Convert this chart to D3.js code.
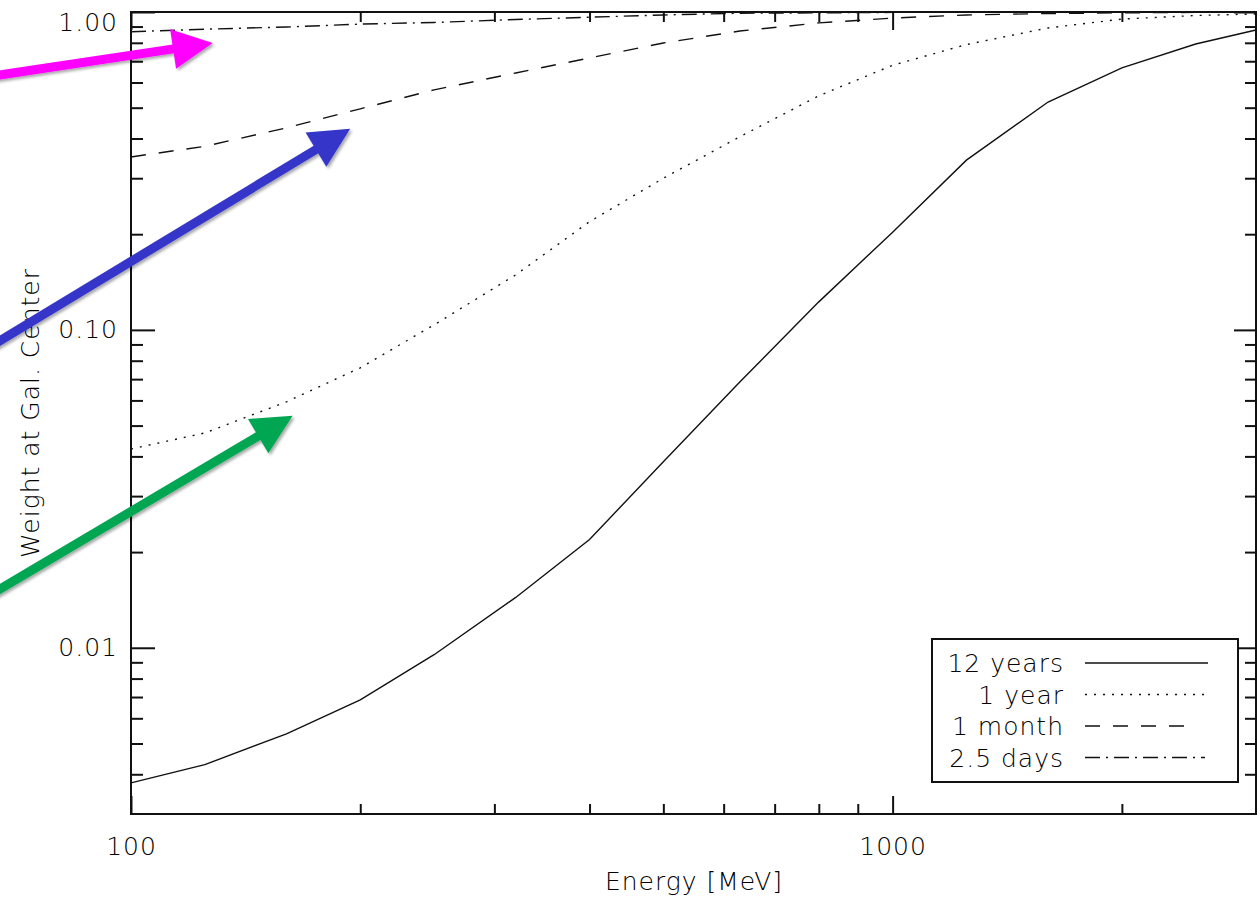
<!DOCTYPE html>
<html>
<head>
<meta charset="utf-8">
<script src="https://cdn.jsdelivr.net/npm/d3@7"></script>
<style>
  body { margin: 0; background: #fff; }
  svg { display: block; }
  text { font-family: "DejaVu Sans", sans-serif; font-weight: 200; fill: #000; letter-spacing: 1px; }
</style>
</head>
<body>
<div id="chart"></div>
<script>
// Energy grid (MeV) and weights
const energies = [100, 125, 160, 200, 250, 320, 400, 500, 630, 800, 1000, 1250, 1600, 2000, 2500, 3000];
const years12 = [0.00376, 0.00429, 0.00536, 0.00686, 0.00951, 0.0144, 0.0219, 0.0385, 0.0686, 0.1225, 0.203, 0.342, 0.521, 0.667, 0.793, 0.878];
const year1 = [0.0422, 0.0474, 0.0594, 0.0760, 0.1037, 0.149, 0.219, 0.300, 0.405, 0.545, 0.680, 0.790, 0.891, 0.950, 0.975, 0.986];
const month1 = [0.350, 0.378, 0.432, 0.496, 0.569, 0.643, 0.717, 0.799, 0.871, 0.924, 0.957, 0.979, 0.989, 0.994, 0.997, 0.998];
const days25 = [0.867, 0.883, 0.897, 0.916, 0.927, 0.947, 0.963, 0.979, 0.991, 0.994, 0.997, 0.998, 0.999, 0.999, 1.0, 1.0];

const seriesNames = ["12 years", "1 year", "1 month", "2.5 days"];
const seriesValues = [years12, year1, month1, days25];
const seriesDash = ["none", "2,7", "15,13", "15,6,2,6"];

// axis ticks
const xMajorTicks = [100, 1000];
const xMajorLabels = ["100", "1000"];
const xMinorTicks = [200, 300, 400, 500, 600, 700, 800, 900, 2000];
const yMajorTicks = [0.01, 0.1, 1];
const yMajorLabels = ["0.01", "0.10", "1.00"];
const yMinorTicks = [0.004, 0.005, 0.006, 0.007, 0.008, 0.009,
  0.02, 0.03, 0.04, 0.05, 0.06, 0.07, 0.08, 0.09,
  0.2, 0.3, 0.4, 0.5, 0.6, 0.7, 0.8, 0.9];

// annotation arrows, start and tip in data units (energy, weight)
const arrowColors = ["#ff00ff", "#3535c9", "#00a651"];
const arrowStart = [[67.3, 0.634], [67.3, 0.0925], [67.3, 0.0153]];
const arrowTip = [[128, 0.799], [194, 0.429], [163, 0.0537]];

const W = 1260, H = 898;
const plot = { left: 131, right: 1256, top: 12, bottom: 814 };

const svg = d3.select("#chart").append("svg")
  .attr("width", W).attr("height", H);

const defs = svg.append("defs");
const shadow = defs.append("filter").attr("id", "shadow")
  .attr("x", "-20%").attr("y", "-20%").attr("width", "140%").attr("height", "140%");
shadow.append("feDropShadow")
  .attr("dx", 2).attr("dy", 2).attr("stdDeviation", 1.5)
  .attr("flood-color", "#000").attr("flood-opacity", 0.35);

const x = d3.scaleLog().domain([100, 3000]).range([plot.left, plot.right]);
const y = d3.scaleLog().domain([0.003, 1]).range([plot.bottom, plot.top]);

function styleAxis(g) {
  g.select(".domain").remove();
  g.selectAll(".tick line").attr("stroke", "#111").attr("stroke-width", 2);
  g.selectAll(".tick text").attr("font-size", 25).attr("fill", "#000")
    .attr("font-family", null);
}

// bottom axis
svg.append("g").attr("transform", `translate(0,${plot.bottom})`)
  .call(d3.axisBottom(x).tickValues(xMajorTicks)
    .tickFormat((d, i) => xMajorLabels[i]).tickSize(-18).tickPadding(23))
  .call(styleAxis);
svg.append("g").attr("transform", `translate(0,${plot.bottom})`)
  .call(d3.axisBottom(x).tickValues(xMinorTicks).tickFormat("").tickSize(-10))
  .call(styleAxis);

// top axis (mirrored, no labels)
svg.append("g").attr("transform", `translate(0,${plot.top})`)
  .call(d3.axisTop(x).tickValues(xMajorTicks).tickFormat("").tickSize(-18))
  .call(styleAxis);
svg.append("g").attr("transform", `translate(0,${plot.top})`)
  .call(d3.axisTop(x).tickValues(xMinorTicks).tickFormat("").tickSize(-10))
  .call(styleAxis);

// left axis
const yAxisG = svg.append("g").attr("transform", `translate(${plot.left},0)`)
  .call(d3.axisLeft(y).tickValues(yMajorTicks)
    .tickFormat((d, i) => yMajorLabels[i]).tickSize(-24).tickPadding(13))
  .call(styleAxis);
// keep the top label inside the figure like the original
yAxisG.selectAll(".tick text").attr("y", d => Math.max(0, plot.top + 10 - y(d)));
svg.append("g").attr("transform", `translate(${plot.left},0)`)
  .call(d3.axisLeft(y).tickValues(yMinorTicks).tickFormat("").tickSize(-12))
  .call(styleAxis);

// right axis (mirrored)
svg.append("g").attr("transform", `translate(${plot.right},0)`)
  .call(d3.axisRight(y).tickValues(yMajorTicks).tickFormat("").tickSize(-22))
  .call(styleAxis);
svg.append("g").attr("transform", `translate(${plot.right},0)`)
  .call(d3.axisRight(y).tickValues(yMinorTicks).tickFormat("").tickSize(-11))
  .call(styleAxis);

// frame
svg.append("rect")
  .attr("x", plot.left).attr("y", plot.top)
  .attr("width", plot.right - plot.left).attr("height", plot.bottom - plot.top)
  .attr("fill", "none").attr("stroke", "#111").attr("stroke-width", 2);

// curves
const line = d3.line()
  .x((d, i) => x(energies[i]))
  .y(d => y(d));

svg.append("g").selectAll("path")
  .data(seriesValues)
  .enter()
  .append("path")
  .attr("d", line)
  .attr("fill", "none")
  .attr("stroke", "#111")
  .attr("stroke-width", 1.4)
  .attr("stroke-dasharray", (d, i) => seriesDash[i]);

// axis titles
svg.append("text")
  .attr("x", 694)
  .attr("y", 890)
  .attr("text-anchor", "middle")
  .attr("font-size", 25)
  .text("Energy [MeV]");

svg.append("text")
  .attr("transform", "translate(39,413) rotate(-90)")
  .attr("text-anchor", "middle")
  .attr("font-size", 25)
  .text("Weight at Gal. Center");

// legend
const legend = svg.append("g");
legend.append("rect")
  .attr("x", 932).attr("y", 639).attr("width", 306).attr("height", 143)
  .attr("fill", "#fff").attr("stroke", "#111").attr("stroke-width", 2);

const legendRow = d3.scalePoint().domain(seriesNames).range([663, 757.5]);
const legendLineEnd = [1208, 1208, 1193, 1205];

const rows = legend.selectAll(".row")
  .data(seriesNames)
  .enter()
  .append("g")
  .attr("class", "row");

rows.append("text")
  .attr("x", 1064)
  .attr("y", d => legendRow(d))
  .attr("dy", "0.36em")
  .attr("text-anchor", "end")
  .attr("font-size", 25)
  .text(d => d);

rows.append("line")
  .attr("x1", 1085)
  .attr("x2", (d, i) => legendLineEnd[i])
  .attr("y1", d => legendRow(d))
  .attr("y2", d => legendRow(d))
  .attr("stroke", "#111")
  .attr("stroke-width", 1.6)
  .attr("stroke-dasharray", (d, i) => seriesDash[i]);

// annotation arrows drawn on top
const headLen = 40, headHalf = 20, shaftWidth = 9;
const arrows = svg.append("g").attr("filter", "url(#shadow)");

arrowColors.forEach((color, i) => {
  const x0 = x(arrowStart[i][0]), y0 = y(arrowStart[i][1]);
  const x1 = x(arrowTip[i][0]), y1 = y(arrowTip[i][1]);
  const len = Math.hypot(x1 - x0, y1 - y0);
  const ux = (x1 - x0) / len, uy = (y1 - y0) / len;
  const bx = x1 - ux * headLen, by = y1 - uy * headLen;

  arrows.append("line")
    .attr("x1", x0 - ux * 10).attr("y1", y0 - uy * 10)
    .attr("x2", bx + ux * 2).attr("y2", by + uy * 2)
    .attr("stroke", color)
    .attr("stroke-width", shaftWidth);

  arrows.append("path")
    .attr("d", d3.line()([
      [x1, y1],
      [bx - uy * headHalf, by + ux * headHalf],
      [bx + uy * headHalf, by - ux * headHalf]
    ]) + "Z")
    .attr("fill", color);
});
</script>
</body>
</html>
